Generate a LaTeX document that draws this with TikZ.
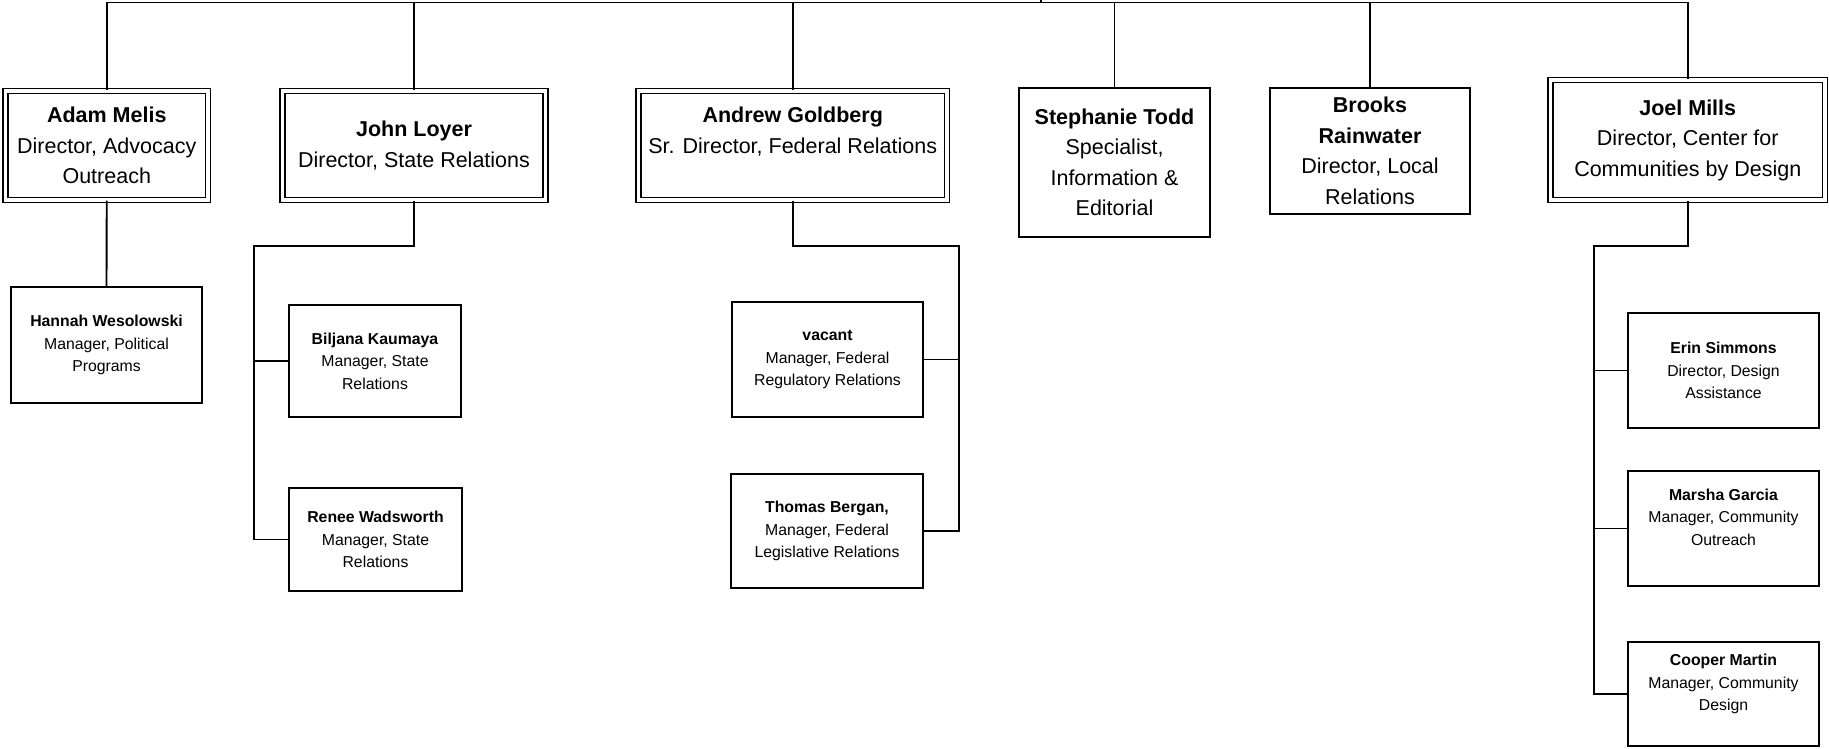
\documentclass[tikz,border=0pt]{standalone}
\usepackage{fontspec}
\setmainfont{Liberation Sans}

\begin{document}
\begin{tikzpicture}[x=1pt, y=-1pt,
    wire/.style={line width=1.9pt},
    head/.style={draw, double, line width=1.3pt, double distance=3.8pt, inner sep=0pt, align=center, font=\fontsize{21.5}{30.5}\selectfont},
    lone/.style={draw, line width=1.8pt, inner sep=0pt, align=center, font=\fontsize{21.5}{30.5}\selectfont},
    staff/.style={draw, line width=1.8pt, inner sep=0pt, align=center, font=\fontsize{15.8}{22.5}\selectfont}]
    \useasboundingbox (0, 0) rectangle (1829, 748);

    % Heads
    \node[head, minimum width=202.5pt, minimum height=109pt] (adam) at (106.75, 145.5) {\textbf{Adam Melis}\\Director, Advocacy\\Outreach};
    \node[head, minimum width=263pt, minimum height=109pt] (john) at (414, 145.5) {\textbf{John Loyer}\\Director, State Relations};
    \node[head, minimum width=308.5pt, minimum height=109pt] (goldberg) at (792.75, 145.5) {\textbf{Andrew Goldberg}\\Sr. Director, Federal Relations\\ \mbox{}};
    \node[lone, minimum width=191pt, minimum height=149pt] (todd) at (1114.5, 162.5) {\textbf{Stephanie Todd}\\Specialist,\\Information \&\\Editorial};
    \node[lone, minimum width=200pt, minimum height=126pt] (rainwater) at (1370, 151) {\textbf{Brooks}\\\textbf{Rainwater}\\Director, Local\\Relations};
    \node[head, minimum width=274.5pt, minimum height=120pt] (mills) at (1687.75, 140) {\textbf{Joel Mills}\\Director, Center for\\Communities by Design};

    % Staff
    \node[staff, minimum width=191pt, minimum height=116pt] (wesolowski) at (106.5, 345) {\textbf{Hannah Wesolowski}\\Manager, Political\\Programs};
    \node[staff, minimum width=172pt, minimum height=112pt] (kaumaya) at (375, 361) {\textbf{Biljana Kaumaya}\\Manager, State\\Relations};
    \node[staff, minimum width=173pt, minimum height=103pt] (wadsworth) at (375.5, 539.5) {\textbf{Renee Wadsworth}\\Manager, State\\Relations};
    \node[staff, minimum width=191pt, minimum height=115pt] (vacant) at (827.5, 359.5) {\textbf{vacant}\\Manager, Federal\\Regulatory Relations};
    \node[staff, minimum width=192pt, minimum height=114pt] (bergan) at (827, 531) {\textbf{Thomas Bergan,}\\Manager, Federal\\Legislative Relations};
    \node[staff, minimum width=191pt, minimum height=115pt] (simmons) at (1723.5, 370.5) {\textbf{Erin Simmons}\\Director, Design\\Assistance};
    \node[staff, minimum width=191pt, minimum height=115pt] (garcia) at (1723.5, 528.5) {\textbf{Marsha Garcia}\\Manager, Community\\Outreach\\ \mbox{}};
    \node[staff, minimum width=191pt, minimum height=104pt] (martin) at (1723.5, 694) {\textbf{Cooper Martin}\\Manager, Community\\Design\\ \mbox{}};

    % Top bar
    \coordinate (ceo) at (1041, 0);
    \coordinate (bar) at (1041, 2.5);
    \draw[wire] (ceo) -- (bar);
    \foreach \h in {adam, john, goldberg, todd, rainwater, mills}
        \draw[wire] (bar) -| (\h.north);

    % Trunks
    \coordinate (jtrunk) at (254, 246);
    \coordinate (gtrunk) at (959, 246);
    \coordinate (mtrunk) at (1594, 246);
    \draw[wire] (adam.south) -- (wesolowski.north);
    \draw[wire] (john.south) |- (jtrunk) |- (wadsworth.west);
    \draw[wire] (jtrunk |- kaumaya.west) -- (kaumaya.west);
    \draw[wire] (goldberg.south) |- (gtrunk) |- (bergan.east);
    \draw[wire] (gtrunk |- vacant.east) -- (vacant.east);
    \draw[wire] (mills.south) |- (mtrunk) |- (martin.west);
    \draw[wire] (mtrunk |- simmons.west) -- (simmons.west);
    \draw[wire] (mtrunk |- garcia.west) -- (garcia.west);
\end{tikzpicture}
\end{document}
